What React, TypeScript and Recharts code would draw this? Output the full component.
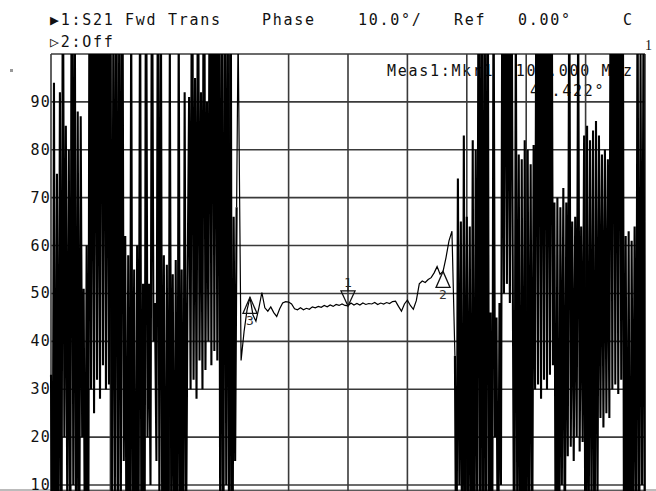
import { LineChart, Line, XAxis, YAxis, CartesianGrid, ReferenceDot } from "recharts";

// S21 phase sweep 55..155 MHz (degrees). Outside the passband the phase wraps,
// so values beyond the screen get clipped by the axis.
const noiseStep = 0.25;
const passStep = 0.5;

// 55.00 .. 86.25 MHz
const leftStart = 55;
const leftNoise = [
  33, -20, 94, -30, 75, -10, 92, -20, 130, 20, 85, 0, 80, -10, 140, 10,
  120, -30, 88, -10, 87, 20, 51, -20, 60, -30, 140, 30, 130, 25, 150, 32,
  120, 28, 160, 35, 140, 30, 125, 31, 130, -10, 110, 5, 145, -20, 120, 0,
  140, 15, 62, -20, 58, -30, 110, -10, 55, -40, 60, 0, 120, -25, 52, -10,
  135, 20, 52, 10, 130, 40, 48, 15, 125, 5, 115, -15, 58, -35, 56, -20,
  100, 5, 54, -20, 57, -30, 108, -10, 55, -20, 92, 0, 53, 91, 30, 140,
  32, 95, 28, 130, 36, 92, 30, 150, 34, 90, 40, 140, 35, 150, 38, 130,
  36, 145, -10, 120, -30, 140, 10, 115, -20, 130, -40, 66, 15, 68,
];

// 86.5 .. 122.5 MHz
const passStart = 86.5;
const passband = [
  105, 36, 42, 46.5, 49.2, 45.5, 44.2, 47,
  50.2, 47, 46.3, 47.2, 46, 45.2, 46.8, 48,
  48.3, 48.2, 47.8, 46.8, 46.6, 47, 46.6, 46.9,
  46.7, 47.2, 47, 47.3, 47.1, 47.5, 47.2, 47.6,
  47.3, 47.7, 47.5, 47.8, 47.5, 47.4, 48, 47.6,
  47.9, 47.6, 48, 47.7, 47.9, 47.8, 48.1, 47.7,
  48, 47.8, 48.1, 47.9, 48.3, 48.4, 47.3, 46.3,
  47.8, 48.6, 47.5, 46.7, 48.5, 52, 52.6, 52.3,
  52.9, 53.3, 54.3, 55.6, 54, 54.6, 57.5, 61,
  63,
];

// 123.00 .. 155.00 MHz
const rightStart = 123;
const rightNoise = [
  37, -20, 74, 10, 65, -30, 83, -10, 66, 0, 64, -20, 82, -30, 80, 5,
  140, -30, 150, -40, 130, -20, 145, -10, 46, -30, 120, 20, 45, -20, 48, 10,
  130, 50, 140, 52, 125, 48, 135, 51, -20, 110, 0, 79, -30, 78, -20, 82,
  -40, 80, 0, 77, -10, 81, 30, 140, 31, 150, 28, 135, 32, 145, 30, 130,
  33, 140, 35, 69, -20, 70, -30, 68, 10, 72, -10, 69, 16, 120, 18, 65,
  15, 66, 20, 110, 17, 64, 19, 83, -30, 85, -10, 82, 0, 84, -20, 86,
  5, 83, 24, 79, 22, 80, 25, 78, 24, 140, 30, 150, 31, 130, 29, 145,
  32, 135, -30, 62, -20, 63, -40, 61, 0, 64, -10, 120, -20, 100, 10, 110,
  -30,
];

const yTicks = [10, 20, 30, 40, 50, 60, 70, 80, 90, 100];
const xTicks = [55, 65, 75, 85, 95, 105, 115, 125, 135, 145, 155];

const markers = [
  { id: "1", freq: 105, dir: "down" },
  { id: "2", freq: 121, dir: "up" },
  { id: "3", freq: 88.5, dir: "up" },
];

type Row = { freq: number; noise?: number; trace?: number };
const data: Row[] = [
  ...leftNoise.map((v, i) => ({ freq: leftStart + i * noiseStep, noise: v } as Row)),
  ...passband.map((v, i) => ({ freq: passStart + i * passStep, trace: v } as Row)),
  ...rightNoise.map((v, i) => ({ freq: rightStart + i * noiseStep, noise: v } as Row)),
];
// join the passband trace to the neighbouring noise points
data[leftNoise.length - 1].trace = leftNoise[leftNoise.length - 1];
data[leftNoise.length + passband.length].trace = rightNoise[0];

const mono = "'DejaVu Sans Mono', monospace";

const PhaseTick = ({ y, payload }: any) => {
  if (payload.value >= 100) return <g />;
  return (
    <text x={51} y={y + 5} textAnchor="end" fontFamily={mono} fontSize={15} letterSpacing={1.2} fill="#111">
      {payload.value}
    </text>
  );
};

const MarkerShape = ({ cx, cy, id, dir }: any) => {
  if (dir === "down") {
    return (
      <g>
        <path d={`M${cx},${cy} L${cx - 7},${cy - 15} L${cx + 7},${cy - 15} Z`} fill="none" stroke="#111" strokeWidth={1.3} />
        <line x1={cx} y1={cy - 15} x2={cx} y2={cy - 19} stroke="#111" />
        <text x={cx - 4} y={cy - 19} fontFamily={mono} fontSize={13} fill="#222">{id}</text>
      </g>
    );
  }
  return (
    <g>
      <path d={`M${cx},${cy} L${cx - 7},${cy + 16} L${cx + 7},${cy + 16} Z`} fill="none" stroke="#111" strokeWidth={1.3} />
      <text x={cx - 4} y={cy + 28} fontFamily={mono} fontSize={13} fill="#333">{id}</text>
    </g>
  );
};

export default function App() {
  const txt = { fontFamily: mono, fontSize: 15, letterSpacing: 1.7, fill: "#111", style: { whiteSpace: "pre" as const } };
  return (
    <div style={{ position: "absolute", left: 0, top: 0, width: 656, height: 491, overflow: "hidden", background: "#fff" }}>
      <svg width={656} height={491} style={{ position: "absolute", left: 0, top: 0 }}>
        <text x={50} y={25} {...txt}>▶1:S21 Fwd Trans</text>
        <text x={262} y={25} {...txt}>Phase</text>
        <text x={358} y={25} {...txt}>10.0°/</text>
        <text x={454} y={25} {...txt}>Ref</text>
        <text x={518} y={25} {...txt}>0.00°</text>
        <text x={623} y={25} {...txt}>C</text>
        <text x={50} y={47} {...txt}>▷2:Off</text>
        <text x={387} y={76} {...txt}>Meas1:Mkr1  105.000 MHz</text>
        <text x={530} y={96} {...txt}>47.422°</text>
        <text x={645} y={50} fontFamily="'Liberation Serif', serif" fontSize={14} fill="#111">1</text>
        <rect x={10} y={69} width={3} height={3} fill="#999" />
        <rect x={0} y={489} width={656} height={2} fill="#bbb" />
      </svg>
      <div style={{ position: "absolute", left: 0, top: 0 }}>
        <LineChart width={656} height={491} data={data} margin={{ top: 54, right: 11, bottom: 0, left: 0 }}>
          <CartesianGrid stroke="#3a3a3a" strokeWidth={1.6} />
          <XAxis dataKey="freq" type="number" domain={[55, 155]} ticks={xTicks} hide />
          <YAxis
            type="number"
            domain={[8.75, 100]}
            ticks={yTicks}
            allowDataOverflow
            width={51}
            axisLine={false}
            tickLine={false}
            tick={<PhaseTick />}
            interval={0}
          />
          <Line type="linear" dataKey="noise" stroke="#000" strokeWidth={2.1} dot={false} isAnimationActive={false} />
          <Line type="linear" dataKey="trace" stroke="#000" strokeWidth={1.2} dot={false} isAnimationActive={false} />
          {markers.map((m) => {
            const idx = Math.round((m.freq - passStart) / passStep);
            return (
              <ReferenceDot
                key={m.id}
                x={m.freq}
                y={passband[idx]}
                r={0}
                shape={(p: any) => <MarkerShape {...p} id={m.id} dir={m.dir} />}
              />
            );
          })}
        </LineChart>
      </div>
    </div>
  );
}
